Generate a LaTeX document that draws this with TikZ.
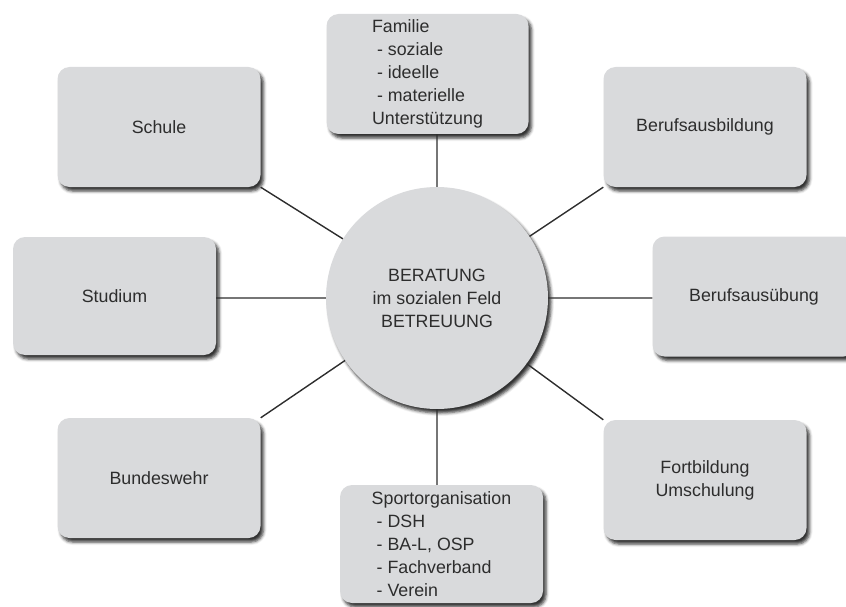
\documentclass[tikz,border=0pt]{standalone}
\usepackage{fontspec}
\setmainfont{Liberation Sans}
\usetikzlibrary{shadows.blur}
\definecolor{feldgrau}{RGB}{217,218,220}
\definecolor{schrift}{RGB}{45,45,45}

\begin{document}
\begin{tikzpicture}[x=1pt,y=-1pt,
  schatten/.style={blur shadow={shadow xshift=3pt,shadow yshift=-4pt,
    shadow blur radius=3pt,shadow opacity=80}},
  feld/.style={fill=feldgrau,rounded corners=12pt,minimum width=203pt,
    minimum height=120pt,text=schrift,align=left,
    font=\fontsize{17.8}{23}\selectfont,schatten},
  mitte/.style={circle,fill=feldgrau,minimum size=222pt,text=schrift,
    align=center,font=\fontsize{17.8}{23}\selectfont,schatten},
  linie/.style={line width=1.4pt,draw=schrift}]
\useasboundingbox (0,0) rectangle (846,607);
\node[mitte] (B) at (437,298) {BERATUNG\\im sozialen Feld\\BETREUUNG};
\node[feld] (schule) at (159,127) {Schule};
\node[feld,minimum width=202pt] (familie) at (427.5,74) {Familie\\\ - soziale\\\ - ideelle\\\ - materielle\\Unterstützung};
\node[feld] (ausbildung) at (705,127) {Berufsausbildung};
\node[feld,minimum height=118pt] (studium) at (114.5,296) {Studium};
\node[feld] (ausuebung) at (754,296.5) {Berufsausübung};
\node[feld] (bund) at (159,478) {Bundeswehr};
\node[feld,minimum height=118pt] (sport) at (441.5,544) {Sportorganisation\\\ - DSH\\\ - BA-L, OSP\\\ - Fachverband\\\ - Verein};
\node[feld,align=center] (fort) at (705,480) {Fortbildung\\Umschulung};
\draw[linie] (B.north) -- (B.north |- familie.south)
  (B.south) -- (B.south |- sport.north)
  (B.west) -- (B.west -| studium.east)
  (B.east) -- (B.east -| ausuebung.west)
  (B) -- (schule.south east)
  (B) -- (ausbildung.south west)
  (B) -- (bund.north east)
  (B) -- (fort.north west);
\end{tikzpicture}
\end{document}
